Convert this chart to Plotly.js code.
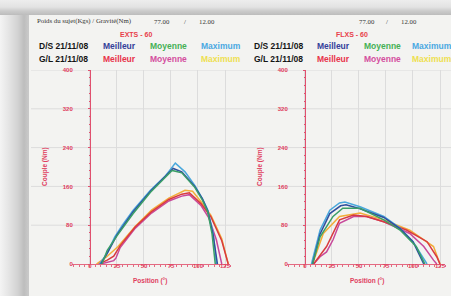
<!DOCTYPE html>
<html><head><meta charset="utf-8">
<script src="https://cdn.plot.ly/plotly-3.0.1.min.js"></script>
<style>
html,body{margin:0;padding:0;background:#f2f2f2;}
#wrap{position:relative;width:451px;height:296px;overflow:hidden;
 background:linear-gradient(to right,#f4f4f4 0px,#e4e4e4 9px,#d2d2d2 18px,#bdbdbd 24px,#c8c8c8 28px,#c8c8c8 29px);}
#top{position:absolute;left:0;top:0;width:451px;height:15px;
 background:linear-gradient(to bottom,#ededed 0px,#e3e3e3 7px,#cbcbcb 11px,#bcbcbc 15px);}
#card{position:absolute;left:29px;top:15px;right:0;bottom:0;background:#f3f3f1;}
#chart{position:absolute;left:0;top:0;width:451px;height:296px;}
</style></head>
<body><div id="wrap"><div id="top"></div><div id="card"></div><div id="chart"></div></div>
<script>
// ---------- data ----------
const headerLabel = "Poids du sujet(Kgs) / Gravité(Nm)";
const bodyWeight = "77.00";
const gravity = "12.00";
const chartTitles = ["EXTS - 60", "FLXS - 60"];
const rowLabels = ["D/S 21/11/08", "G/L 21/11/08"];
const seriesNames = ["Meilleur", "Moyenne", "Maximum"];
const xTicks = [0, 25, 50, 75, 100, 125];
const yTicks = [0, 80, 160, 240, 320, 400];
const xTitle = "Position (°)";
const yTitle = "Couple (Nm)";

// EXTS - 60
const extDSMeilleurX = [10,16,25,40,56,70,77,85,97,104,109,114,118];
const extDSMeilleurY = [0,22,60,108,150,182,197,190,160,135,110,60,0];
const extDSMoyenneX = [11,16,25,40,56,70,76,85,97,104,109,113,116];
const extDSMoyenneY = [0,28,58,104,148,180,193,188,158,132,108,62,0];
const extDSMaximumX = [9,16,23,30,40,56,70,79,88,97,104,109,114,117];
const extDSMaximumY = [0,23,56,80,111,152,182,208,190,162,135,112,64,0];
const extGLMeilleurX = [8,16,22,28,42,57,73,85,92,103,112,122,128];
const extGLMeilleurY = [0,8,16,38,77,108,133,144,147,124,97,48,0];
const extGLMoyenneX = [10,22,24,28,42,57,73,85,92,103,110,117,122];
const extGLMoyenneY = [0,7,12,34,74,105,130,140,143,120,95,50,0];
const extGLMaximumX = [6,15,26,42,57,73,88,95,103,112,122,128];
const extGLMaximumY = [0,14,36,78,111,136,152,150,128,100,52,0];

// FLXS - 60
const flxDSMeilleurX = [7,14,23,33,38,51,73,88,100,110];
const flxDSMeilleurY = [0,62,104,120,122,114,96,73,46,0];
const flxDSMoyenneX = [7,14,26,35,51,73,88,103,111];
const flxDSMoyenneY = [0,56,98,115,115,91,70,36,0];
const flxDSMaximumX = [6,14,23,32,37,51,73,88,100,113];
const flxDSMaximumY = [0,70,111,126,128,118,98,74,46,0];
const flxGLMeilleurX = [8,20,32,45,57,73,94,113,122,125];
const flxGLMeilleurY = [0,36,91,101,98,87,70,46,15,0];
const flxGLMoyenneX = [8,14,20,26,32,45,57,73,97,110,119,122];
const flxGLMoyenneY = [0,15,25,50,84,98,98,87,63,36,8,0];
const flxGLMaximumX = [7,17,32,51,73,97,119,125];
const flxGLMaximumY = [0,63,98,105,91,70,36,0];

// ---------- styling ----------
const W = 451, H = 296;
const px = x => x / W, py = y => 1 - y / H;
const legendColors = [["#34409a", "#45b055", "#4aa8e2"], ["#e8344a", "#d44e9e", "#eee050"]];
const lineColors = [["#2f4f9e", "#3a9e68", "#4aa8dc"], ["#d93a3e", "#c8489a", "#f2ad3a"]];
const red = "#e0405e";

function tr(x, y, color, xa, ya) {
  return {x: x, y: y, type: "scatter", mode: "lines", xaxis: xa, yaxis: ya,
    line: {color: color, width: 1.5}, hoverinfo: "skip", showlegend: false};
}
const traces = [
  tr(extGLMaximumX, extGLMaximumY, lineColors[1][2], "x", "y"),
  tr(extGLMoyenneX, extGLMoyenneY, lineColors[1][1], "x", "y"),
  tr(extGLMeilleurX, extGLMeilleurY, lineColors[1][0], "x", "y"),
  tr(extDSMaximumX, extDSMaximumY, lineColors[0][2], "x", "y"),
  tr(extDSMeilleurX, extDSMeilleurY, lineColors[0][0], "x", "y"),
  tr(extDSMoyenneX, extDSMoyenneY, lineColors[0][1], "x", "y"),
  tr(flxGLMaximumX, flxGLMaximumY, lineColors[1][2], "x2", "y2"),
  tr(flxGLMoyenneX, flxGLMoyenneY, lineColors[1][1], "x2", "y2"),
  tr(flxGLMeilleurX, flxGLMeilleurY, lineColors[1][0], "x2", "y2"),
  tr(flxDSMaximumX, flxDSMaximumY, lineColors[0][2], "x2", "y2"),
  tr(flxDSMeilleurX, flxDSMeilleurY, lineColors[0][0], "x2", "y2"),
  tr(flxDSMoyenneX, flxDSMoyenneY, lineColors[0][1], "x2", "y2")
];

const tickFont = {family: "Liberation Sans, Arial", size: 6, color: red, weight: "bold"};
function xax(d0, d1, anchor) {
  return {domain: [px(d0), px(d1)], range: [-17, 130], anchor: anchor,
    tickvals: xTicks, ticktext: xTicks.map(String), tickfont: tickFont,
    showline: true, linecolor: "#e46a82", linewidth: 1.3,
    ticks: "outside", ticklen: 2, tickcolor: "#e46a82",
    minor: {dtick: 5, tick0: 0, ticks: "outside", ticklen: 1.5, tickcolor: "#e46a82", showgrid: false},
    ticklabelstandoff: -7,
    showgrid: true, gridcolor: "#dcdcdc", gridwidth: 1, zeroline: false, fixedrange: true};
}
function yax(axisX) {
  return {domain: [py(264), py(70)], range: [0, 400], anchor: "free", position: px(axisX),
    tickvals: yTicks, ticktext: yTicks.map(String), tickfont: tickFont,
    showline: true, linecolor: "#e0506e", linewidth: 1.4,
    ticks: "outside", ticklen: 2, tickcolor: "#e0506e",
    minor: {dtick: 16, ticks: "outside", ticklen: 1.5, tickcolor: "#e0506e", showgrid: false},
    ticklabelstandoff: 14,
    showgrid: false, zeroline: false, fixedrange: true};
}

const shapes = [];
yTicks.forEach(v => {
  if (v === 0) return;
  ["y", "y2"].forEach((ya, i) => {
    shapes.push({type: "line", xref: "paper", yref: ya,
      x0: i === 0 ? px(31) : px(231), x1: i === 0 ? px(231) : 1, y0: v, y1: v,
      line: {color: "#dcdcdc", width: 1}, layer: "below"});
  });
});

const ann = [];
function A(text, x, y, opts) {
  ann.push(Object.assign({text: text, x: px(x), y: py(y), xref: "paper", yref: "paper",
    showarrow: false, xanchor: "center", yanchor: "middle",
    font: {family: "Liberation Sans, Arial", size: 8.5, color: "#151515", weight: "bold"}}, opts || {}));
}
const serif = {family: "Liberation Serif, Times New Roman", size: 6.8, color: "#333"};
A(headerLabel, 35, 21, {xanchor: "left", font: serif});
A(bodyWeight, 162, 21, {font: serif});
A("/", 185, 21, {font: serif});
A(gravity, 207, 21, {font: serif});
A(bodyWeight, 367, 21, {font: serif});
A("/", 387, 21, {font: serif});
A(gravity, 409, 21, {font: serif});

const titleFont = {family: "Liberation Sans, Arial", size: 7, color: "#e8404a", weight: "bold"};
A(chartTitles[0], 136, 34, {font: titleFont});
A(chartTitles[1], 352, 34, {font: titleFont});

const rowY = [46, 59];
const cols = [[37, 119, 168, 221], [252, 333, 382, 432]];
[0, 1].forEach(c => {
  [0, 1].forEach(r => {
    A(rowLabels[r], cols[c][0], rowY[r], {xanchor: "left"});
    seriesNames.forEach((s, k) => {
      A(s, cols[c][k + 1], rowY[r], {font: {family: "Liberation Sans, Arial", size: 8.5, color: legendColors[r][k], weight: "bold"}});
    });
  });
});

const axTitleFont = {family: "Liberation Sans, Arial", size: 6.5, color: red, weight: "bold"};
A(xTitle, 150, 281, {font: axTitleFont});
A(xTitle, 367, 281, {font: axTitleFont});
A(yTitle, 45, 167, {font: axTitleFont, textangle: -90});
A(yTitle, 260, 167, {font: axTitleFont, textangle: -90});

const layout = {
  width: W, height: H, margin: {l: 0, r: 0, t: 0, b: 0},
  paper_bgcolor: "rgba(0,0,0,0)", plot_bgcolor: "rgba(0,0,0,0)",
  showlegend: false,
  xaxis: xax(71.6, 230.4, "y"),
  yaxis: yax(90),
  xaxis2: xax(286.6, 445.4, "y2"),
  yaxis2: yax(305),
  shapes: shapes, annotations: ann
};
Plotly.newPlot("chart", traces, layout, {staticPlot: true, displayModeBar: false});
</script></body></html>
